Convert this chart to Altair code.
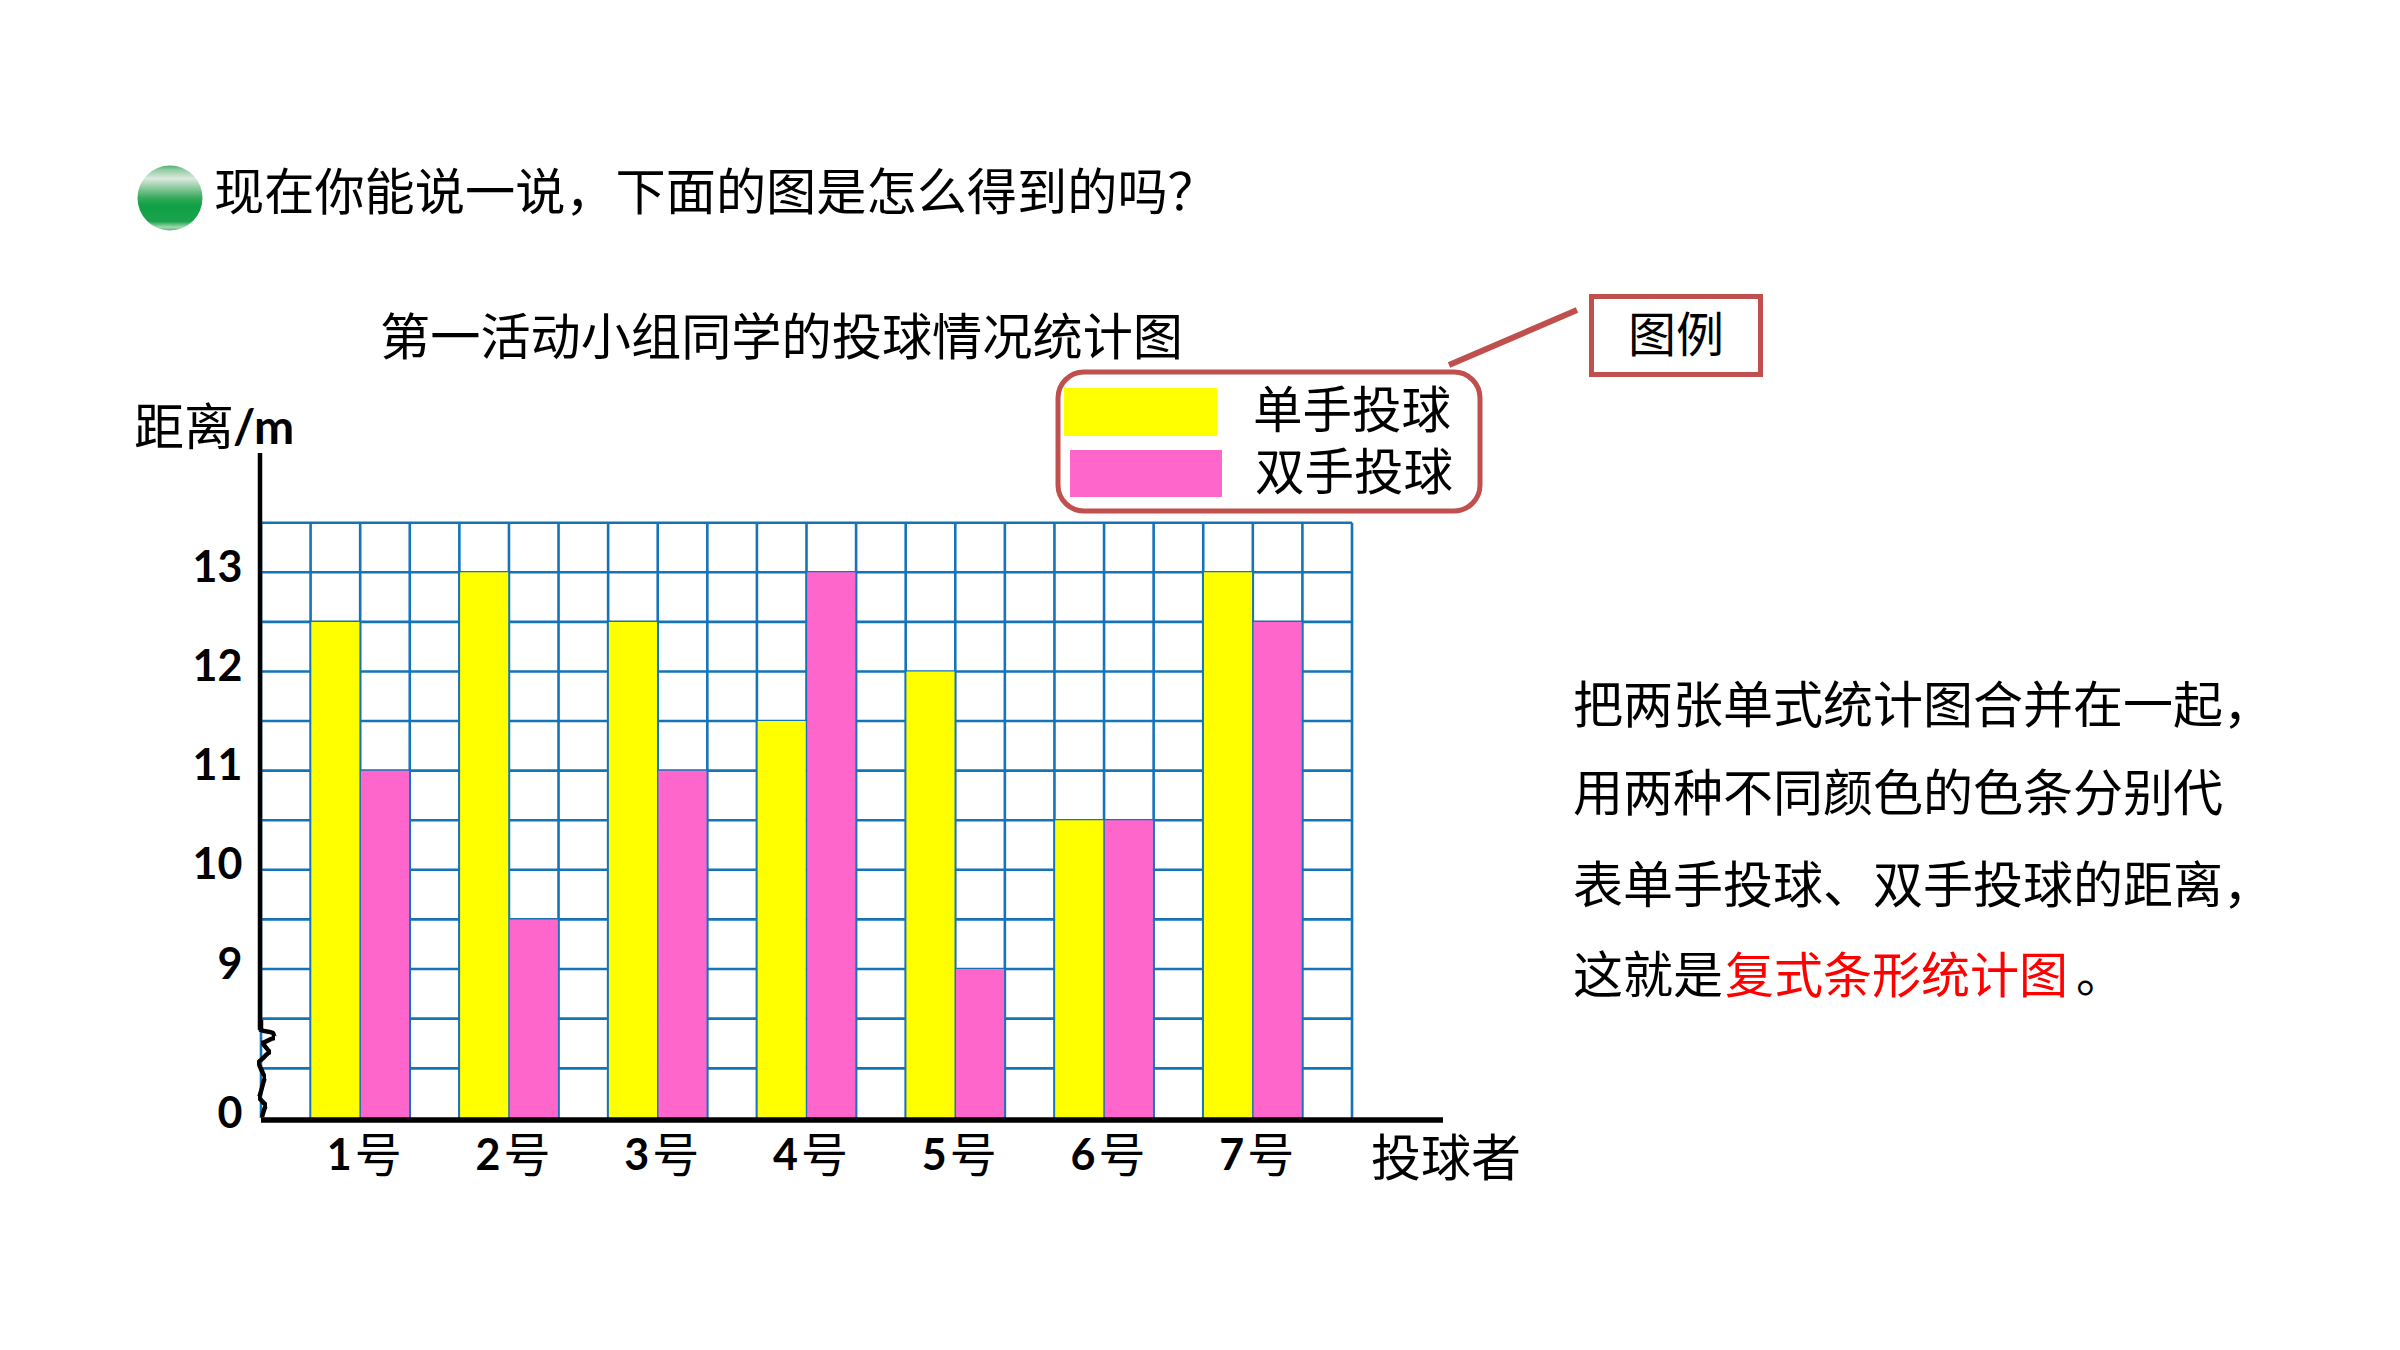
import altair as alt
import pandas as pd

# ---- data ----
players = ["1号", "2号", "3号", "4号", "5号", "6号", "7号"]
one_hand = [12.5, 13, 12.5, 11.5, 12, 10.5, 13]
two_hand = [11, 9.5, 11, 13, 9, 10.5, 12.5]
series_names = ["单手投球", "双手投球"]
y_ticks = [0, 9, 10, 11, 12, 13]
grid_levels = [3, 6, 9, 9.5, 10, 10.5, 11, 11.5, 12, 12.5, 13, 13.5]
grid_columns = list(range(23))

COMMA = "\uff0c"
QMARK = "\uff1f"
heading = "现在你能说一说" + COMMA + "下面的图是怎么得到的吗" + QMARK
chart_title = "第一活动小组同学的投球情况统计图"
note_lines = ["把两张单式统计图合并在一起" + COMMA, "用两种不同颜色的色条分别代", "表单手投球、双手投球的距离" + COMMA, "这就是"]
note_red = "复式条形统计图"
note_end = "。"

# ---- layout (page pixels) ----
OX, OY = 261, 522
W, H = 1091, 596
BLUE = "#1573B8"
RED = "#C0504D"
CJK = "Noto Sans CJK SC"
LATIN = "Lato"


def X(v):
    return v - OX


def Y(v):
    return v - OY


df = pd.DataFrame(
    [{"p": p, "s": series_names[0], "v": v} for p, v in zip(players, one_hand)]
    + [{"p": p, "s": series_names[1], "v": v} for p, v in zip(players, two_hand)]
)

y_scale = alt.Scale(domain=[0, 9, 13.5], range=[H, 447, 0.7], nice=False, zero=False)
band = alt.Scale(type="band", domain=players, paddingInner=1 / 3, paddingOuter=1 / 3)
y_axis = alt.Axis(
    values=y_ticks,
    labelFont=LATIN,
    labelFontWeight="bold",
    labelFontSize=43,
    labelColor="black",
    labelPadding=19,
    labelOffset=-4,
    domain=False,
    ticks=False,
    grid=False,
)

h_grid = (
    alt.Chart(pd.DataFrame({"v": grid_levels}))
    .mark_rule(color=BLUE, strokeWidth=2.6)
    .encode(y=alt.Y("v:Q", scale=y_scale, axis=y_axis, title=None), x=alt.value(0), x2=alt.value(W))
)
v_grid = (
    alt.Chart(pd.DataFrame({"c": grid_columns}))
    .mark_rule(color=BLUE, strokeWidth=2.6)
    .encode(
        x=alt.X("c:Q", scale=alt.Scale(domain=[0, 22], nice=False, zero=False), axis=None),
        y=alt.value(0.7),
        y2=alt.value(H),
    )
)
bars = (
    alt.Chart(df)
    .mark_bar()
    .encode(
        x=alt.X(
            "p:N",
            scale=band,
            title=None,
            axis=alt.Axis(
                labelExpr="substring(datum.label, 0, 1)",
                labelFont=LATIN,
                labelFontWeight="bold",
                labelFontSize=43,
                labelColor="black",
                labelAngle=0,
                labelOffset=-21,
                labelPadding=17,
                domain=False,
                ticks=False,
                grid=False,
            ),
        ),
        xOffset=alt.XOffset(
            "s:N",
            sort=series_names,
            scale=alt.Scale(domain=series_names, paddingInner=0.03, paddingOuter=0.015),
        ),
        y=alt.Y("v:Q", scale=y_scale, stack=None, title=None, axis=y_axis),
        color=alt.Color(
            "s:N",
            scale=alt.Scale(domain=series_names, range=["#FFFF00", "#FF66CC"]),
            legend=None,
        ),
    )
)
hao = (
    alt.Chart(pd.DataFrame({"p": players}))
    .mark_text(font=CJK, fontSize=47, color="black", dx=18, baseline="middle")
    .encode(
        x=alt.X("p:N", scale=band, axis=None),
        y=alt.value(Y(1158)),
        text=alt.value("号"),
    )
)


def label(txt, x, y, size=50, color="black", align="left", font=CJK, weight="normal"):
    return alt.Chart().mark_text(
        font=font, fontSize=size, color=color, align=align, baseline="middle", fontWeight=weight
    ).encode(x=alt.value(X(x)), y=alt.value(Y(y + 3)), text=alt.value(txt))


def seg(x1, y1, x2, y2, color="black", w=5):
    return alt.Chart().mark_rule(color=color, strokeWidth=w).encode(
        x=alt.value(X(x1)), y=alt.value(Y(y1)), x2=alt.value(X(x2)), y2=alt.value(Y(y2))
    )


def box(x1, y1, x2, y2, fill=None, stroke=None, w=0, r=0):
    kw = {"cornerRadius": r}
    if fill:
        kw["fill"] = fill
    else:
        kw["fillOpacity"] = 0
    if stroke:
        kw["stroke"] = stroke
        kw["strokeWidth"] = w
    return alt.Chart().mark_rect(**kw).encode(
        x=alt.value(X(x1)), y=alt.value(Y(y1)), x2=alt.value(X(x2)), y2=alt.value(Y(y2))
    )


# squiggle at the axis break, page pixels
sq_x = [261, 261, 273, 275, 261, 271, 261, 257, 266, 258, 267, 262]
sq_y = [1020, 1030, 1033, 1038, 1043, 1052, 1060, 1063, 1077, 1098, 1105, 1117]
squiggle = (
    alt.Chart(pd.DataFrame({"x": [X(v) for v in sq_x], "y": [Y(v) for v in sq_y], "o": list(range(len(sq_x)))}))
    .mark_line(color="black", strokeWidth=4.5, interpolate="monotone")
    .encode(
        x=alt.X("x:Q", scale=None),
        y=alt.Y("y:Q", scale=None),
        order="o:Q",
    )
)

bullet = (
    alt.Chart()
    .mark_point(
        filled=True,
        size=4225,
        shape="circle",
        opacity=1,
        fill=alt.LinearGradient(
            gradient="linear",
            x1=0.5, y1=0, x2=0.5, y2=1,
            stops=[
                alt.GradientStop(offset=0, color="#4CAF6E"),
                alt.GradientStop(offset=0.06, color="#8CCB9F"),
                alt.GradientStop(offset=0.2, color="#DCE9DE"),
                alt.GradientStop(offset=0.5, color="#35A95A"),
                alt.GradientStop(offset=0.62, color="#0FA045"),
                alt.GradientStop(offset=0.86, color="#1BA34E"),
                alt.GradientStop(offset=0.95, color="#A6D8B3"),
                alt.GradientStop(offset=1, color="#55B276"),
            ],
        ),
    )
    .encode(x=alt.value(X(170)), y=alt.value(Y(198)))
)

layers = [
    h_grid,
    v_grid,
    bars,
    hao,
    seg(260, 453, 260, 1030, w=4.5),
    seg(261, 1120, 1443, 1120, w=5.5),
    squiggle,
    bullet,
    label(heading, 214, 192, size=50.2),
    label(chart_title, 380, 337, size=50.2),
    label("距离", 134, 427),
    label("/m", 233, 427, size=48, font=LATIN, weight="bold"),
    label("投球者", 1371, 1158),
    box(1058, 372, 1480, 511, stroke=RED, w=5, r=26),
    box(1064, 388, 1217, 436, fill="#FFFF00"),
    box(1070, 450, 1222, 497, fill="#FF66CC"),
    label(series_names[0], 1253, 410, size=49.5),
    label(series_names[1], 1255, 472, size=49.5),
    box(1591.5, 296.5, 1760.5, 374.5, stroke=RED, w=5),
    seg(1449, 365, 1577, 310, color=RED, w=6),
    label("图例", 1628, 335, size=48),
    label(note_lines[0], 1573, 705, size=50),
    label(note_lines[1], 1573, 793, size=50),
    label(note_lines[2], 1573, 885, size=50),
    label(note_lines[3], 1573, 975, size=50),
    label(note_red, 1725, 975, size=49, color="#FF0000"),
    label(note_end, 2076, 975, size=48),
]

chart = (
    alt.layer(*layers)
    .resolve_scale(x="independent")
    .properties(
        width=W,
        height=H,
        padding={"left": OX - 8, "top": OY - 8, "right": 2384 - (OX - 8) - W, "bottom": 1334 - (OY - 8) - H},
        autosize=alt.AutoSizeParams(type="none"),
        background="white",
    )
    .configure_view(stroke=None)
)
chart.save("out.html", embed_options={"renderer": "svg", "actions": False})
